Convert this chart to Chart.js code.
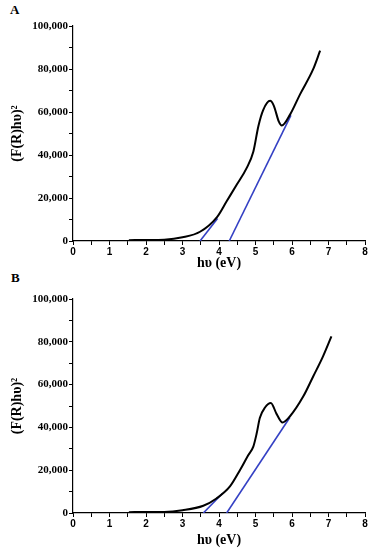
<!DOCTYPE html>
<html>
<head>
<meta charset="utf-8">
<script src="https://cdn.jsdelivr.net/npm/chart.js@4/dist/chart.umd.min.js"></script>
<style>
  body { margin: 0; background: #fff; width: 372px; height: 550px; position: relative; overflow: hidden; }
  .panel { position: absolute; left: 0; width: 372px; }
  .letter { position: absolute; font: bold 13px "Liberation Serif", serif; color: #000; }
</style>
</head>
<body>
<div class="letter" style="left:10px;top:2px;">A</div>
<div class="letter" style="left:11px;top:270px;">B</div>
<div class="panel" style="top:0;height:275px;"><canvas id="chartA"></canvas></div>
<div class="panel" style="top:272px;height:278px;"><canvas id="chartB"></canvas></div>
<script>
// panel A: measured curve
const curveAx = [1.53, 2.0, 2.5, 3.0, 3.48, 3.94, 4.21, 4.48, 4.76, 4.94, 5.08, 5.21, 5.4, 5.5, 5.64, 5.72, 5.95, 6.22, 6.58, 6.77];
const curveAy = [400, 450, 600, 1700, 4300, 11000, 18500, 26000, 34000, 41500, 53500, 60900, 65200, 63000, 55500, 53700, 58900, 68200, 79900, 88500];
// panel A: tangent lines
const fitA1x = [3.48, 3.96];
const fitA1y = [0, 10500];
const fitA2x = [4.28, 5.97];
const fitA2y = [0, 58400];

// panel B: measured curve
const curveBx = [1.53, 2.0, 2.5, 3.0, 3.57, 3.93, 4.3, 4.58, 4.8, 4.94, 5.03, 5.12, 5.26, 5.42, 5.58, 5.74, 5.94, 6.31, 6.58, 6.85, 7.08];
const curveBy = [400, 450, 500, 1300, 3400, 6800, 12400, 20200, 27000, 31000, 37000, 44500, 49300, 51400, 46200, 42300, 45100, 54500, 63800, 73200, 82500];
// panel B: tangent lines
const fitB1x = [3.57, 4.1];
const fitB1y = [0, 9200];
const fitB2x = [4.21, 5.94];
const fitB2y = [0, 44600];

const xMin = 0, xMax = 8;
const yMin = 0, yMax = 100000;
const xTitle = 'hυ (eV)';
const yTitle = '(F(R)hυ)²';

function pts(xs, ys) {
    return xs.map((x, i) => ({ x: x, y: ys[i] }));
}

function makeChart(id, curve, fit1, fit2, boxH, padTop, titleBottom) {
    const ctx = document.getElementById(id).getContext('2d');
    return new Chart(ctx, {
        type: 'scatter',
        data: {
            datasets: [{
                data: curve,
                showLine: true,
                borderColor: '#000',
                borderWidth: 2,
                pointRadius: 0,
                cubicInterpolationMode: 'monotone'
            }, {
                data: fit1,
                showLine: true,
                borderColor: '#3440c4',
                borderWidth: 1.6,
                pointRadius: 0
            }, {
                data: fit2,
                showLine: true,
                borderColor: '#3440c4',
                borderWidth: 1.6,
                pointRadius: 0
            }]
        },
        options: {
            responsive: true,
            maintainAspectRatio: false,
            animation: false,
            layout: { padding: { top: padTop, right: 7, left: 0, bottom: 0 } },
            plugins: { legend: { display: false }, tooltip: { enabled: false } },
            scales: {
                x: {
                    type: 'linear',
                    min: xMin,
                    max: xMax,
                    afterFit: (s) => { s.height = boxH; },
                    border: { color: '#000', width: 1.2 },
                    grid: { drawOnChartArea: false, drawTicks: true, tickLength: 4, color: '#000' },
                    ticks: {
                        stepSize: 0.5,
                        padding: 1,
                        color: '#000',
                        maxRotation: 0,
                        autoSkip: false,
                        font: { family: 'Liberation Sans', weight: 'bold', size: 10 },
                        callback: (v) => Number.isInteger(v) ? String(v) : ''
                    },
                    title: {
                        display: true,
                        text: xTitle,
                        color: '#000',
                        font: { family: 'Liberation Serif', weight: 'bold', size: 14 },
                        padding: { top: 0, bottom: titleBottom }
                    }
                },
                y: {
                    type: 'linear',
                    min: yMin,
                    max: yMax,
                    afterFit: (s) => { s.width = 73; },
                    border: { color: '#000', width: 1.2 },
                    grid: { drawOnChartArea: false, drawTicks: true, tickLength: 4, color: '#000' },
                    ticks: {
                        stepSize: 10000,
                        padding: 1,
                        color: '#000',
                        autoSkip: false,
                        font: { family: 'Liberation Serif', weight: 'bold', size: 11 },
                        callback: (v) => v % 20000 === 0 ? v.toLocaleString('en-US') : ''
                    },
                    title: {
                        display: true,
                        text: yTitle,
                        color: '#000',
                        font: { family: 'Liberation Serif', weight: 'bold', size: 14 },
                        padding: { top: 9, bottom: 0 }
                    }
                }
            }
        }
    });
}

makeChart('chartA', pts(curveAx, curveAy), pts(fitA1x, fitA1y), pts(fitA2x, fitA2y), 34, 26, 3);
makeChart('chartB', pts(curveBx, curveBy), pts(fitB1x, fitB1y), pts(fitB2x, fitB2y), 37, 27, 1);
</script>
</body>
</html>
